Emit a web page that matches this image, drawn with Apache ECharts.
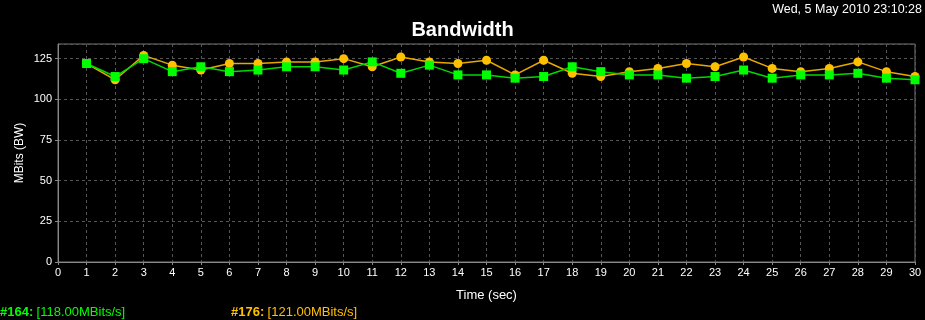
<!DOCTYPE html>
<html>
<head>
<meta charset="utf-8">
<script src="https://cdn.jsdelivr.net/npm/echarts@6/dist/echarts.min.js"></script>
<style>
  html, body { margin: 0; padding: 0; background: #000; }
  #chart { width: 925px; height: 320px; }
</style>
</head>
<body>
<div id="chart"></div>
<script>
// time axis (sec)
const times = [1, 2, 3, 4, 5, 6, 7, 8, 9, 10, 11, 12, 13, 14, 15, 16, 17, 18, 19, 20, 21, 22, 23, 24, 25, 26, 27, 28, 29, 30];

// #164 (green squares)
const green164 = [122, 114, 125, 117, 120, 117, 118, 120, 120, 118, 123, 116, 121, 115, 115, 113, 114, 120, 117, 115, 115, 113, 114, 118, 113, 115, 115, 116, 113, 112];
// #176 (orange circles)
const orange176 = [122, 112, 127, 121, 118, 122, 122, 123, 123, 125, 120, 126, 123, 122, 124, 115, 124, 116, 114, 117, 119, 122, 120, 126, 119, 117, 119, 123, 117, 114];

const legendIds = ['#164:', '#176:'];
const legendRates = ['[118.00MBits/s]', '[121.00MBits/s]'];
const timestamp = 'Wed, 5 May 2010 23:10:28';

const font = '"Liberation Sans", Arial, sans-serif';

const toPairs = (vals) => vals.map((v, i) => [times[i], v]);

const chart = echarts.init(document.getElementById('chart'));

const option = {
  backgroundColor: '#000',
  animation: false,
  title: {
    text: 'Bandwidth',
    left: 'center',
    top: 15,
    textStyle: { color: '#fff', fontSize: 20, fontWeight: 'bold', fontFamily: font }
  },
  grid: {
    left: 58,
    right: 10,
    top: 44,
    bottom: 58,
    show: true,
    borderColor: '#777',
    borderWidth: 1
  },
  xAxis: {
    type: 'value',
    min: 0,
    max: 30,
    interval: 1,
    name: 'Time (sec)',
    nameLocation: 'middle',
    nameGap: 27,
    nameTextStyle: { color: '#fff', fontSize: 13, fontFamily: font },
    axisLine: { lineStyle: { color: '#888' } },
    axisTick: { show: true, length: 3, lineStyle: { color: '#888' } },
    axisLabel: { color: '#fff', fontSize: 11, fontFamily: font, margin: 5 },
    splitLine: { show: true, lineStyle: { color: '#555', type: [3, 3] } }
  },
  yAxis: {
    type: 'value',
    min: 0,
    max: 134,
    interval: 25,
    name: 'MBits (BW)',
    nameLocation: 'middle',
    nameGap: 32,
    nameMoveOverlap: false,
    nameTextStyle: { color: '#fff', fontSize: 12, fontFamily: font },
    axisLine: { show: true, lineStyle: { color: '#888' } },
    axisTick: { show: true, length: 3, lineStyle: { color: '#888' } },
    axisLabel: { color: '#fff', fontSize: 11, fontFamily: font, margin: 6, showMaxLabel: false },
    splitLine: { show: true, lineStyle: { color: '#555', type: [3, 3] } }
  },
  series: [
    {
      name: '#176',
      type: 'line',
      data: toPairs(orange176),
      symbol: 'circle',
      symbolSize: 9,
      itemStyle: { color: '#ffc000' },
      lineStyle: { color: '#e8a800', width: 1.5 }
    },
    {
      name: '#164',
      type: 'line',
      data: toPairs(green164),
      symbol: 'rect',
      symbolSize: 9,
      itemStyle: { color: '#00ff00' },
      lineStyle: { color: '#00d800', width: 1.5 }
    }
  ],
  graphic: [
    {
      type: 'text',
      right: 3,
      top: 3,
      style: { text: timestamp, fill: '#fff', font: '12.5px ' + font }
    },
    {
      type: 'text',
      left: 0,
      top: 306,
      style: {
        text: '{b|' + legendIds[0] + '} {v|' + legendRates[0] + '}',
        rich: {
          b: { fill: '#00ff00', fontWeight: 'bold', fontSize: 13, fontFamily: font },
          v: { fill: '#00ff00', fontSize: 13, fontFamily: font }
        }
      }
    },
    {
      type: 'text',
      left: 231,
      top: 306,
      style: {
        text: '{b|' + legendIds[1] + '} {v|' + legendRates[1] + '}',
        rich: {
          b: { fill: '#ffc000', fontWeight: 'bold', fontSize: 13, fontFamily: font },
          v: { fill: '#ffc000', fontSize: 13, fontFamily: font }
        }
      }
    }
  ]
};

chart.setOption(option);
</script>
</body>
</html>
